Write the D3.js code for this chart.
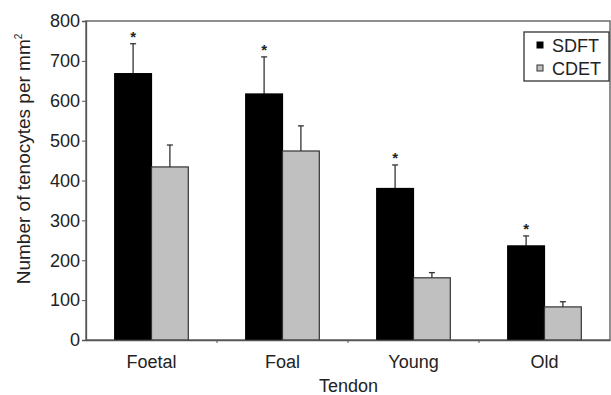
<!DOCTYPE html>
<html><head><meta charset="utf-8">
<script src="https://cdn.jsdelivr.net/npm/d3@7"></script>
<style>body{margin:0;background:#fff}svg{display:block}text{font-family:"Liberation Sans",Arial,sans-serif;fill:#222}</style>
</head><body><svg id="c" width="611" height="395"></svg>
<script>
const categories = ["Foetal","Foal","Young","Old"];
const series = ["SDFT","CDET"];
const sdftValues = [668, 617, 380, 236];
const sdftErrors = [75, 93, 59, 25];
const cdetValues = [434, 474, 156, 83];
const cdetErrors = [55, 63, 13, 13];
const significant = [true, true, true, true];
const yTicks = [0,100,200,300,400,500,600,700,800];

const svg = d3.select("#c");
const m = {left:86, right:1, top:21, bottom:55};
const W = 611, H = 395;
const FS = 18;
const x = d3.scaleBand().domain(categories).range([m.left, W - m.right]).paddingInner(0).paddingOuter(0);
const xs = d3.scaleBand().domain(series).range([0, x.bandwidth()]).paddingOuter(0.78).paddingInner(0);
const y = d3.scaleLinear().domain([0,800]).range([H - m.bottom, m.top]);
const colors = {SDFT:"#000", CDET:"#c0c0c0"};
const strokes = {SDFT:"#000", CDET:"#333"};

svg.append("rect").attr("x", m.left).attr("y", m.top).attr("width", W - m.right - m.left).attr("height", y(0)-m.top)
  .attr("fill","none").attr("stroke","#555").attr("stroke-width",1.3);

const data = [];
categories.forEach((c,i)=>{
  data.push({c, s:"SDFT", v:sdftValues[i], e:sdftErrors[i], sig:significant[i]});
  data.push({c, s:"CDET", v:cdetValues[i], e:cdetErrors[i], sig:false});
});

const g = svg.append("g");
data.forEach(d=>{
  const cx = x(d.c) + xs(d.s) + xs.bandwidth()/2;
  g.append("line").attr("x1",cx).attr("x2",cx).attr("y1",y(d.v)).attr("y2",y(d.v+d.e)).attr("stroke","#333").attr("stroke-width",1.3);
  g.append("line").attr("x1",cx-3).attr("x2",cx+3).attr("y1",y(d.v+d.e)).attr("y2",y(d.v+d.e)).attr("stroke","#333").attr("stroke-width",1.3);
  if (d.sig) g.append("text").attr("x",cx).attr("y",y(d.v+d.e)-2).attr("text-anchor","middle").attr("font-size",15).attr("font-weight","bold").text("*");
});
g.selectAll("rect.bar").data(data).join("rect").attr("class","bar")
  .attr("x", d=>x(d.c)+xs(d.s)).attr("width", xs.bandwidth())
  .attr("y", d=>y(d.v)).attr("height", d=>y(0)-y(d.v))
  .attr("fill", d=>colors[d.s]).attr("stroke", d=>strokes[d.s]).attr("stroke-width",1.2);

const ya = svg.append("g").attr("transform",`translate(${m.left},0)`)
  .call(d3.axisLeft(y).tickValues(yTicks).tickSize(4).tickPadding(2));
ya.select(".domain").attr("stroke","#555").attr("stroke-width",1.3);
ya.selectAll(".tick line").attr("stroke","#555");
ya.selectAll("text").attr("font-size",FS).attr("font-family","Liberation Sans, Arial, sans-serif").attr("fill","#222");

const xa = svg.append("g").attr("transform",`translate(0,${y(0)})`)
  .call(d3.axisBottom(x).tickSize(0).tickPadding(0));
xa.select(".domain").attr("stroke","#555").attr("stroke-width",1.3);
xa.selectAll("text").attr("font-size",FS).attr("font-family","Liberation Sans, Arial, sans-serif").attr("fill","#222")
  .attr("dy",null).attr("y",27.5);
categories.slice(1).forEach(c=>{
  svg.append("line").attr("x1",x(c)).attr("x2",x(c)).attr("y1",y(0)).attr("y2",y(0)+3).attr("stroke","#555");
});

svg.append("text").attr("x",348.5).attr("y",392).attr("text-anchor","middle").attr("font-size",FS).text("Tendon");
const yl = svg.append("text").attr("transform",`translate(30,159) rotate(-90)`).attr("text-anchor","middle").attr("font-size",19);
yl.append("tspan").text("Number of tenocytes per mm");
yl.append("tspan").attr("font-size",10).attr("dy",-8).text("2");

const lg = svg.append("g").attr("transform","translate(524,32)");
lg.append("rect").attr("width",85).attr("height",49).attr("fill","#fff").attr("stroke","#333").attr("stroke-width",1.3);
series.forEach((s,i)=>{
  const row = lg.append("g").attr("transform",`translate(0,${13+i*23})`);
  row.append("rect").attr("x",13).attr("y",-3).attr("width",6).attr("height",6).attr("fill",colors[s]).attr("stroke",strokes[s]);
  row.append("text").attr("x",28).attr("y",6.5).attr("font-size",FS).text(s);
});
</script></body></html>
